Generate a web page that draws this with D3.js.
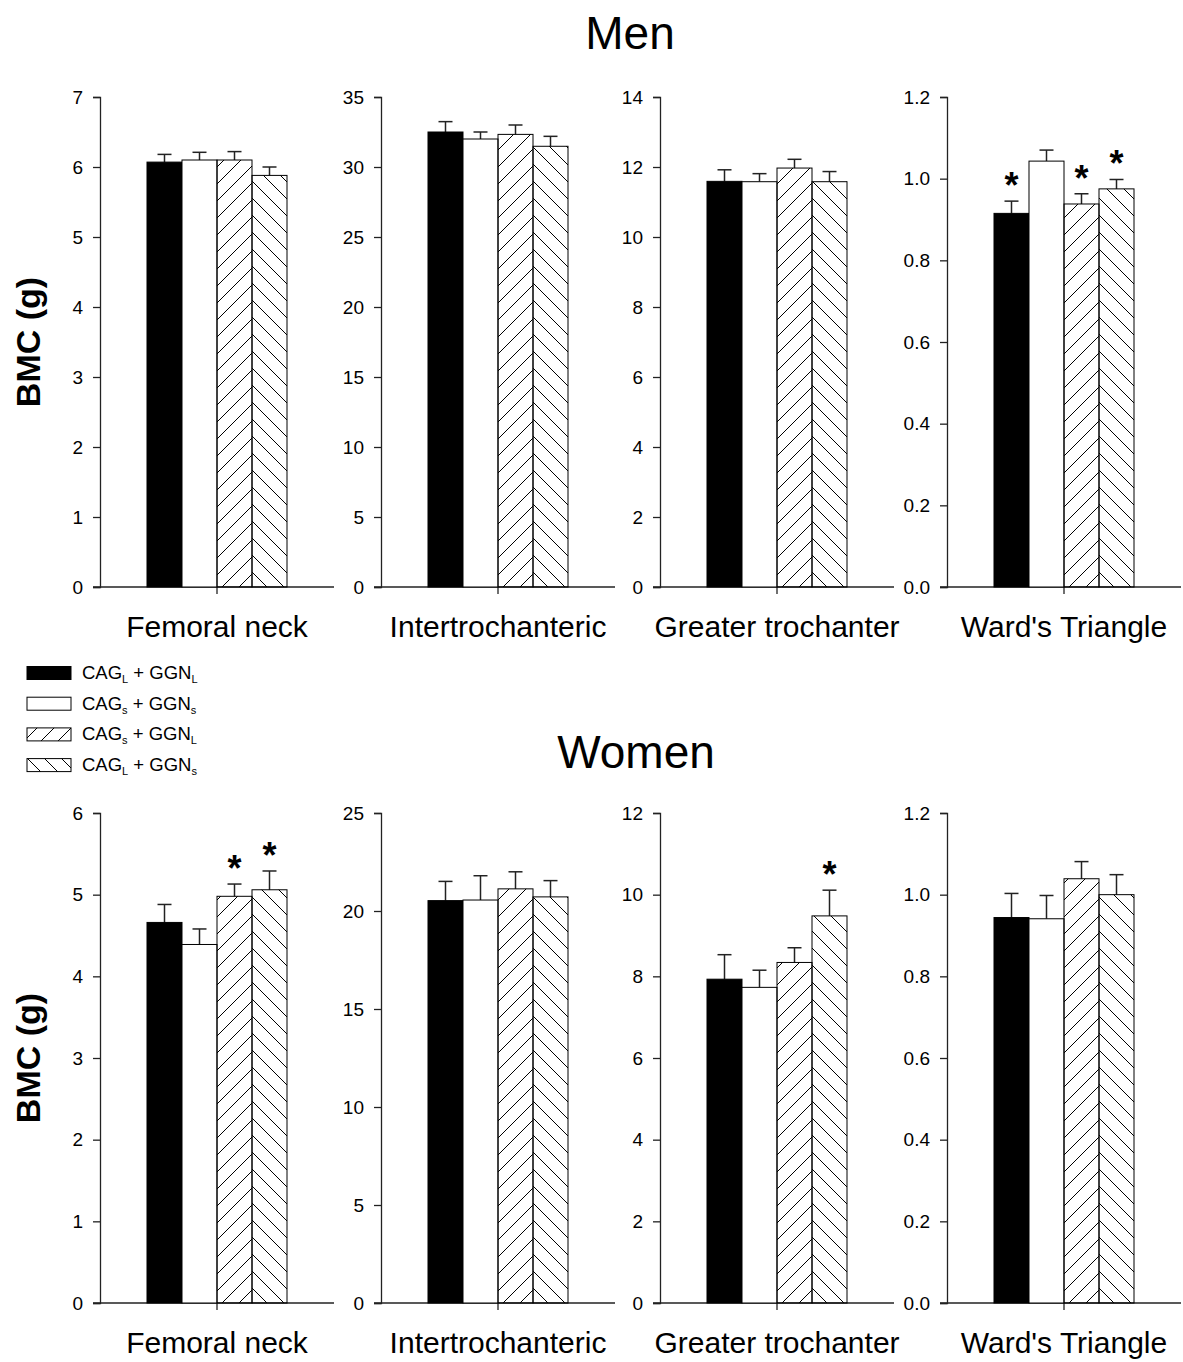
<!DOCTYPE html>
<html>
<head>
<meta charset="utf-8">
<script src="https://cdnjs.cloudflare.com/ajax/libs/d3/7.8.5/d3.min.js"></script>
<style>
  body { margin: 0; background: #fff; }
  svg { font-family: "Liberation Sans", Arial, sans-serif; }
</style>
</head>
<body>
<div id="chart"></div>
<script>
// categories and series
var categories = ["Femoral neck", "Intertrochanteric", "Greater trochanter", "Ward's Triangle"];
var groups = ["LL", "SS", "SL", "LS"];
var groupLabels = [["L", "L"], ["s", "s"], ["s", "L"], ["L", "s"]];

// Men: bar means and top of error bar
var menMeans = [[6.07, 6.10, 6.10, 5.88], [32.5, 32.0, 32.33, 31.48], [11.59, 11.58, 11.97, 11.58], [0.915, 1.043, 0.938, 0.975]];
var menErrTop = [[6.18, 6.21, 6.22, 6.00], [33.24, 32.5, 33.0, 32.19], [11.92, 11.81, 12.22, 11.87], [0.945, 1.07, 0.963, 0.998]];
var menStars = [[0, 0, 0, 0], [0, 0, 0, 0], [0, 0, 0, 0], [1, 0, 1, 1]];
var menMax = [7, 35, 14, 1.2];

// Women
var womenMeans = [[4.66, 4.39, 4.98, 5.06], [20.53, 20.56, 21.13, 20.72], [7.93, 7.73, 8.34, 9.48], [0.944, 0.941, 1.039, 1.0]];
var womenErrTop = [[4.88, 4.58, 5.13, 5.29], [21.51, 21.8, 22.0, 21.55], [8.53, 8.15, 8.70, 10.11], [1.003, 0.998, 1.081, 1.049]];
var womenStars = [[0, 0, 1, 1], [0, 0, 0, 0], [0, 0, 0, 1], [0, 0, 0, 0]];
var womenMax = [6, 25, 12, 1.2];

var tickSteps = [1, 5, 2, 0.2];

// layout
var W = 1183, H = 1362;
var axisX = [100, 381, 660, 947];
var panelW = 234, panelH = 490;
var svg = d3.select("#chart").append("svg")
    .attr("width", W).attr("height", H);

var defs = svg.append("defs");
defs.append("pattern").attr("id", "fwd")
    .attr("patternUnits", "userSpaceOnUse").attr("width", 17).attr("height", 17)
  .append("path")
    .attr("d", "M-1,1 l2,-2 M0,17 l17,-17 M16,18 l2,-2")
    .attr("stroke", "#000").attr("stroke-width", 1);
defs.append("pattern").attr("id", "bwd")
    .attr("patternUnits", "userSpaceOnUse").attr("width", 17).attr("height", 17)
  .append("path")
    .attr("d", "M-1,16 l2,2 M0,0 l17,17 M16,-1 l2,2")
    .attr("stroke", "#000").attr("stroke-width", 1);

var fills = {LL: "#000", SS: "#fff", SL: "url(#fwd)", LS: "url(#bwd)"};

function drawRow(top, means, errTop, stars, maxes, title, titleX, titleY) {
  svg.append("text")
    .attr("x", titleX).attr("y", titleY)
    .attr("text-anchor", "middle")
    .attr("font-size", "46px")
    .text(title);

  svg.append("text")
    .attr("transform", "translate(40," + (top + 245) + ") rotate(-90)")
    .attr("text-anchor", "middle")
    .attr("font-size", "34px")
    .attr("font-weight", "bold")
    .text("BMC (g)");

  categories.forEach(function(cat, c) {
    var g = svg.append("g")
      .attr("transform", "translate(" + axisX[c] + "," + top + ")");

    var y = d3.scaleLinear().domain([0, maxes[c]]).range([panelH, 0]);
    var x = d3.scaleBand().domain([cat]).range([0, panelW])
      .paddingInner(0).paddingOuter(0.3357);
    var xs = d3.scaleBand().domain(groups).range([0, x.bandwidth()]);

    // y axis
    var ticks = d3.range(0, maxes[c] + tickSteps[c] / 2, tickSteps[c]);
    var ya = g.append("g")
      .call(d3.axisLeft(y).tickValues(ticks).tickSize(7).tickPadding(10)
        .tickFormat(maxes[c] < 2 ? d3.format(".1f") : d3.format("d")));
    ya.select(".domain").attr("stroke", "#222").attr("stroke-width", 1.3);
    ya.selectAll(".tick line").attr("stroke", "#222").attr("stroke-width", 1.3);
    ya.selectAll(".tick text").attr("font-size", "19px").attr("fill", "#000")
      .attr("font-family", "Liberation Sans, Arial, sans-serif");

    // x axis
    var xa = g.append("g")
      .attr("transform", "translate(0," + panelH + ")")
      .call(d3.axisBottom(x).tickSize(7).tickFormat(""));
    xa.select(".domain").attr("d", "M-7,0H" + panelW).attr("stroke", "#222").attr("stroke-width", 1.3);
    xa.selectAll(".tick line").attr("stroke", "#222").attr("stroke-width", 1.3);

    g.append("text")
      .attr("x", x(cat) + x.bandwidth() / 2)
      .attr("y", panelH + 50)
      .attr("text-anchor", "middle")
      .attr("font-size", "30px")
      .text(cat);

    var bx = function(i) { return x(cat) + xs(groups[i]); };

    // error bars (upper only)
    groups.forEach(function(gr, i) {
      var cx = bx(i) + xs.bandwidth() / 2;
      g.append("line")
        .attr("x1", cx).attr("x2", cx)
        .attr("y1", y(means[c][i])).attr("y2", y(errTop[c][i]))
        .attr("stroke", "#222").attr("stroke-width", 1.5);
      g.append("line")
        .attr("x1", cx - 7).attr("x2", cx + 7)
        .attr("y1", y(errTop[c][i])).attr("y2", y(errTop[c][i]))
        .attr("stroke", "#222").attr("stroke-width", 1.5);
      if (stars[c][i]) {
        g.append("text")
          .attr("x", cx).attr("y", y(errTop[c][i]) - 3)
          .attr("text-anchor", "middle")
          .attr("font-size", "36px")
          .attr("font-weight", "bold")
          .text("*");
      }
    });

    // bars
    g.selectAll("rect.bar")
      .data(means[c])
      .enter().append("rect")
        .attr("class", "bar")
        .attr("x", function(d, i) { return bx(i); })
        .attr("y", function(d) { return y(d); })
        .attr("width", xs.bandwidth())
        .attr("height", function(d) { return panelH - y(d); })
        .attr("fill", function(d, i) { return fills[groups[i]]; })
        .attr("stroke", "#000")
        .attr("stroke-width", 1);
  });
}

drawRow(97, menMeans, menErrTop, menStars, menMax, "Men", 630, 49);
drawRow(813, womenMeans, womenErrTop, womenStars, womenMax, "Women", 636, 768);

// legend
var legend = svg.append("g");
groups.forEach(function(gr, i) {
  var ly = 673 + i * 30.7;
  legend.append("rect")
    .attr("x", 27).attr("y", ly - 6.5)
    .attr("width", 44).attr("height", 13)
    .attr("fill", fills[gr]).attr("stroke", "#000").attr("stroke-width", 1);
  var t = legend.append("text")
    .attr("x", 82).attr("y", ly + 6)
    .attr("font-size", "18.5px");
  t.append("tspan").text("CAG");
  t.append("tspan").attr("font-size", "11px").attr("dy", 4).text(groupLabels[i][0]);
  t.append("tspan").attr("dy", -4).text(" + GGN");
  t.append("tspan").attr("font-size", "11px").attr("dy", 4).text(groupLabels[i][1]);
});
</script>
</body>
</html>
